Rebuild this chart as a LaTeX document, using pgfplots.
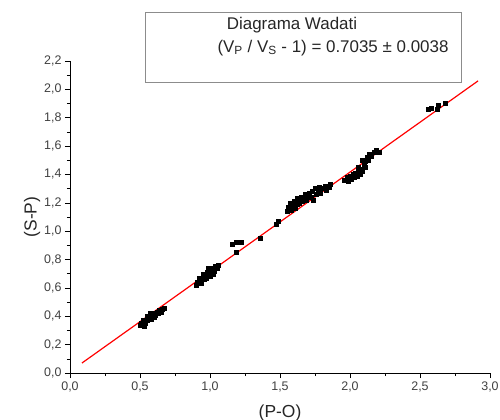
\documentclass[border=0pt]{standalone}
\usepackage{fontspec}
\setmainfont{Liberation Sans}
\usepackage{pgfplots}
\pgfplotsset{compat=1.18}
\begin{document}
\begin{tikzpicture}
\useasboundingbox (0,0) rectangle (500bp,420bp);
\begin{axis}[
  at={(70bp,47bp)}, anchor=south west,
  scale only axis, width=420bp, height=312bp,
  xmin=0, xmax=3, ymin=0, ymax=2.2,
  axis x line*=bottom, axis y line*=left,
  axis line style={black, line width=0.6pt},
  xtick={0,0.5,...,3.0}, ytick={0,0.2,...,2.21},
  minor x tick num=1, minor y tick num=1,
  tick align=outside,
  major tick length=5bp, minor tick length=3bp,
  tick style={black, line width=0.6pt},
  /pgf/number format/.cd, fixed, fixed zerofill, precision=1, use comma, assume math mode=true,
  /pgfplots/.cd,
  tick label style={font=\fontsize{12.5}{14}\selectfont, text=black!75},
  xlabel={(P-O)}, ylabel={(S-P)},
  label style={font=\fontsize{17.5}{20}\selectfont, text=black!85},
  xlabel style={at={(axis description cs:0.5,-0.128)}, anchor=center},
  ylabel style={at={(axis description cs:-0.09,0.5)}, anchor=center},
  clip=false,
]
\addplot[only marks, mark=square*, mark size=2pt, black] coordinates {
(0.50,0.34) (0.51,0.35) (0.52,0.34) (0.53,0.36) (0.52,0.37) (0.54,0.35)
(0.55,0.37) (0.56,0.38) (0.55,0.40) (0.57,0.39) (0.58,0.41) (0.59,0.40)
(0.58,0.38) (0.60,0.42) (0.61,0.41) (0.62,0.43) (0.63,0.42) (0.64,0.44)
(0.65,0.43) (0.66,0.45) (0.67,0.46) (0.60,0.39) (0.57,0.42) (0.53,0.33)
(0.90,0.62) (0.91,0.64) (0.92,0.63) (0.93,0.66) (0.92,0.67) (0.94,0.65)
(0.95,0.68) (0.96,0.66) (0.95,0.70) (0.97,0.69) (0.98,0.71) (0.97,0.67)
(0.99,0.70) (1.00,0.72) (1.00,0.68) (1.01,0.71) (1.02,0.74) (1.03,0.72)
(1.04,0.75) (1.05,0.74) (1.06,0.76) (0.99,0.74) (0.94,0.63) (1.02,0.70)
(1.16,0.91) (1.19,0.92) (1.22,0.92) (1.19,0.85) (1.36,0.95) (1.47,1.05) (1.49,1.07)
(1.55,1.14) (1.56,1.17) (1.57,1.20) (1.58,1.15) (1.59,1.18) (1.60,1.21)
(1.61,1.16) (1.62,1.19) (1.63,1.22) (1.64,1.20) (1.65,1.24) (1.66,1.21)
(1.67,1.23) (1.68,1.26) (1.69,1.22) (1.70,1.25) (1.71,1.27) (1.72,1.24)
(1.73,1.28) (1.74,1.22) (1.75,1.30) (1.76,1.26) (1.77,1.29) (1.78,1.31)
(1.79,1.27) (1.80,1.30) (1.82,1.32) (1.83,1.29) (1.85,1.31) (1.86,1.33)
(1.62,1.23) (1.58,1.19)
(1.96,1.36) (1.98,1.38) (1.99,1.35) (2.00,1.39) (2.01,1.37) (2.02,1.40)
(2.03,1.38) (2.04,1.41) (2.05,1.39) (2.06,1.42) (2.07,1.40) (2.08,1.44)
(2.09,1.42) (2.10,1.47) (2.09,1.50) (2.11,1.45) (2.12,1.52) (2.13,1.50)
(2.14,1.54) (2.15,1.53) (2.17,1.56) (2.19,1.57) (2.21,1.56) (2.06,1.45) (2.11,1.49)
(2.56,1.86) (2.58,1.87) (2.62,1.86) (2.63,1.89) (2.68,1.90)
};
\addplot[red, line width=1.2pt, no markers] coordinates {(0.085,0.07) (2.915,2.06)};
\end{axis}
\draw[black!45, line width=0.8pt] (145bp,338bp) rectangle (461bp,408bp);
\node[font=\fontsize{17}{20}\selectfont, text=black!85] at (292bp,395bp) {Diagrama Wadati};
\node[font=\fontsize{17}{20}\selectfont, text=black!85] at (333bp,372bp) {(V\textsubscript{P} / V\textsubscript{S} - 1) = 0.7035 ± 0.0038};
\end{tikzpicture}
\end{document}
